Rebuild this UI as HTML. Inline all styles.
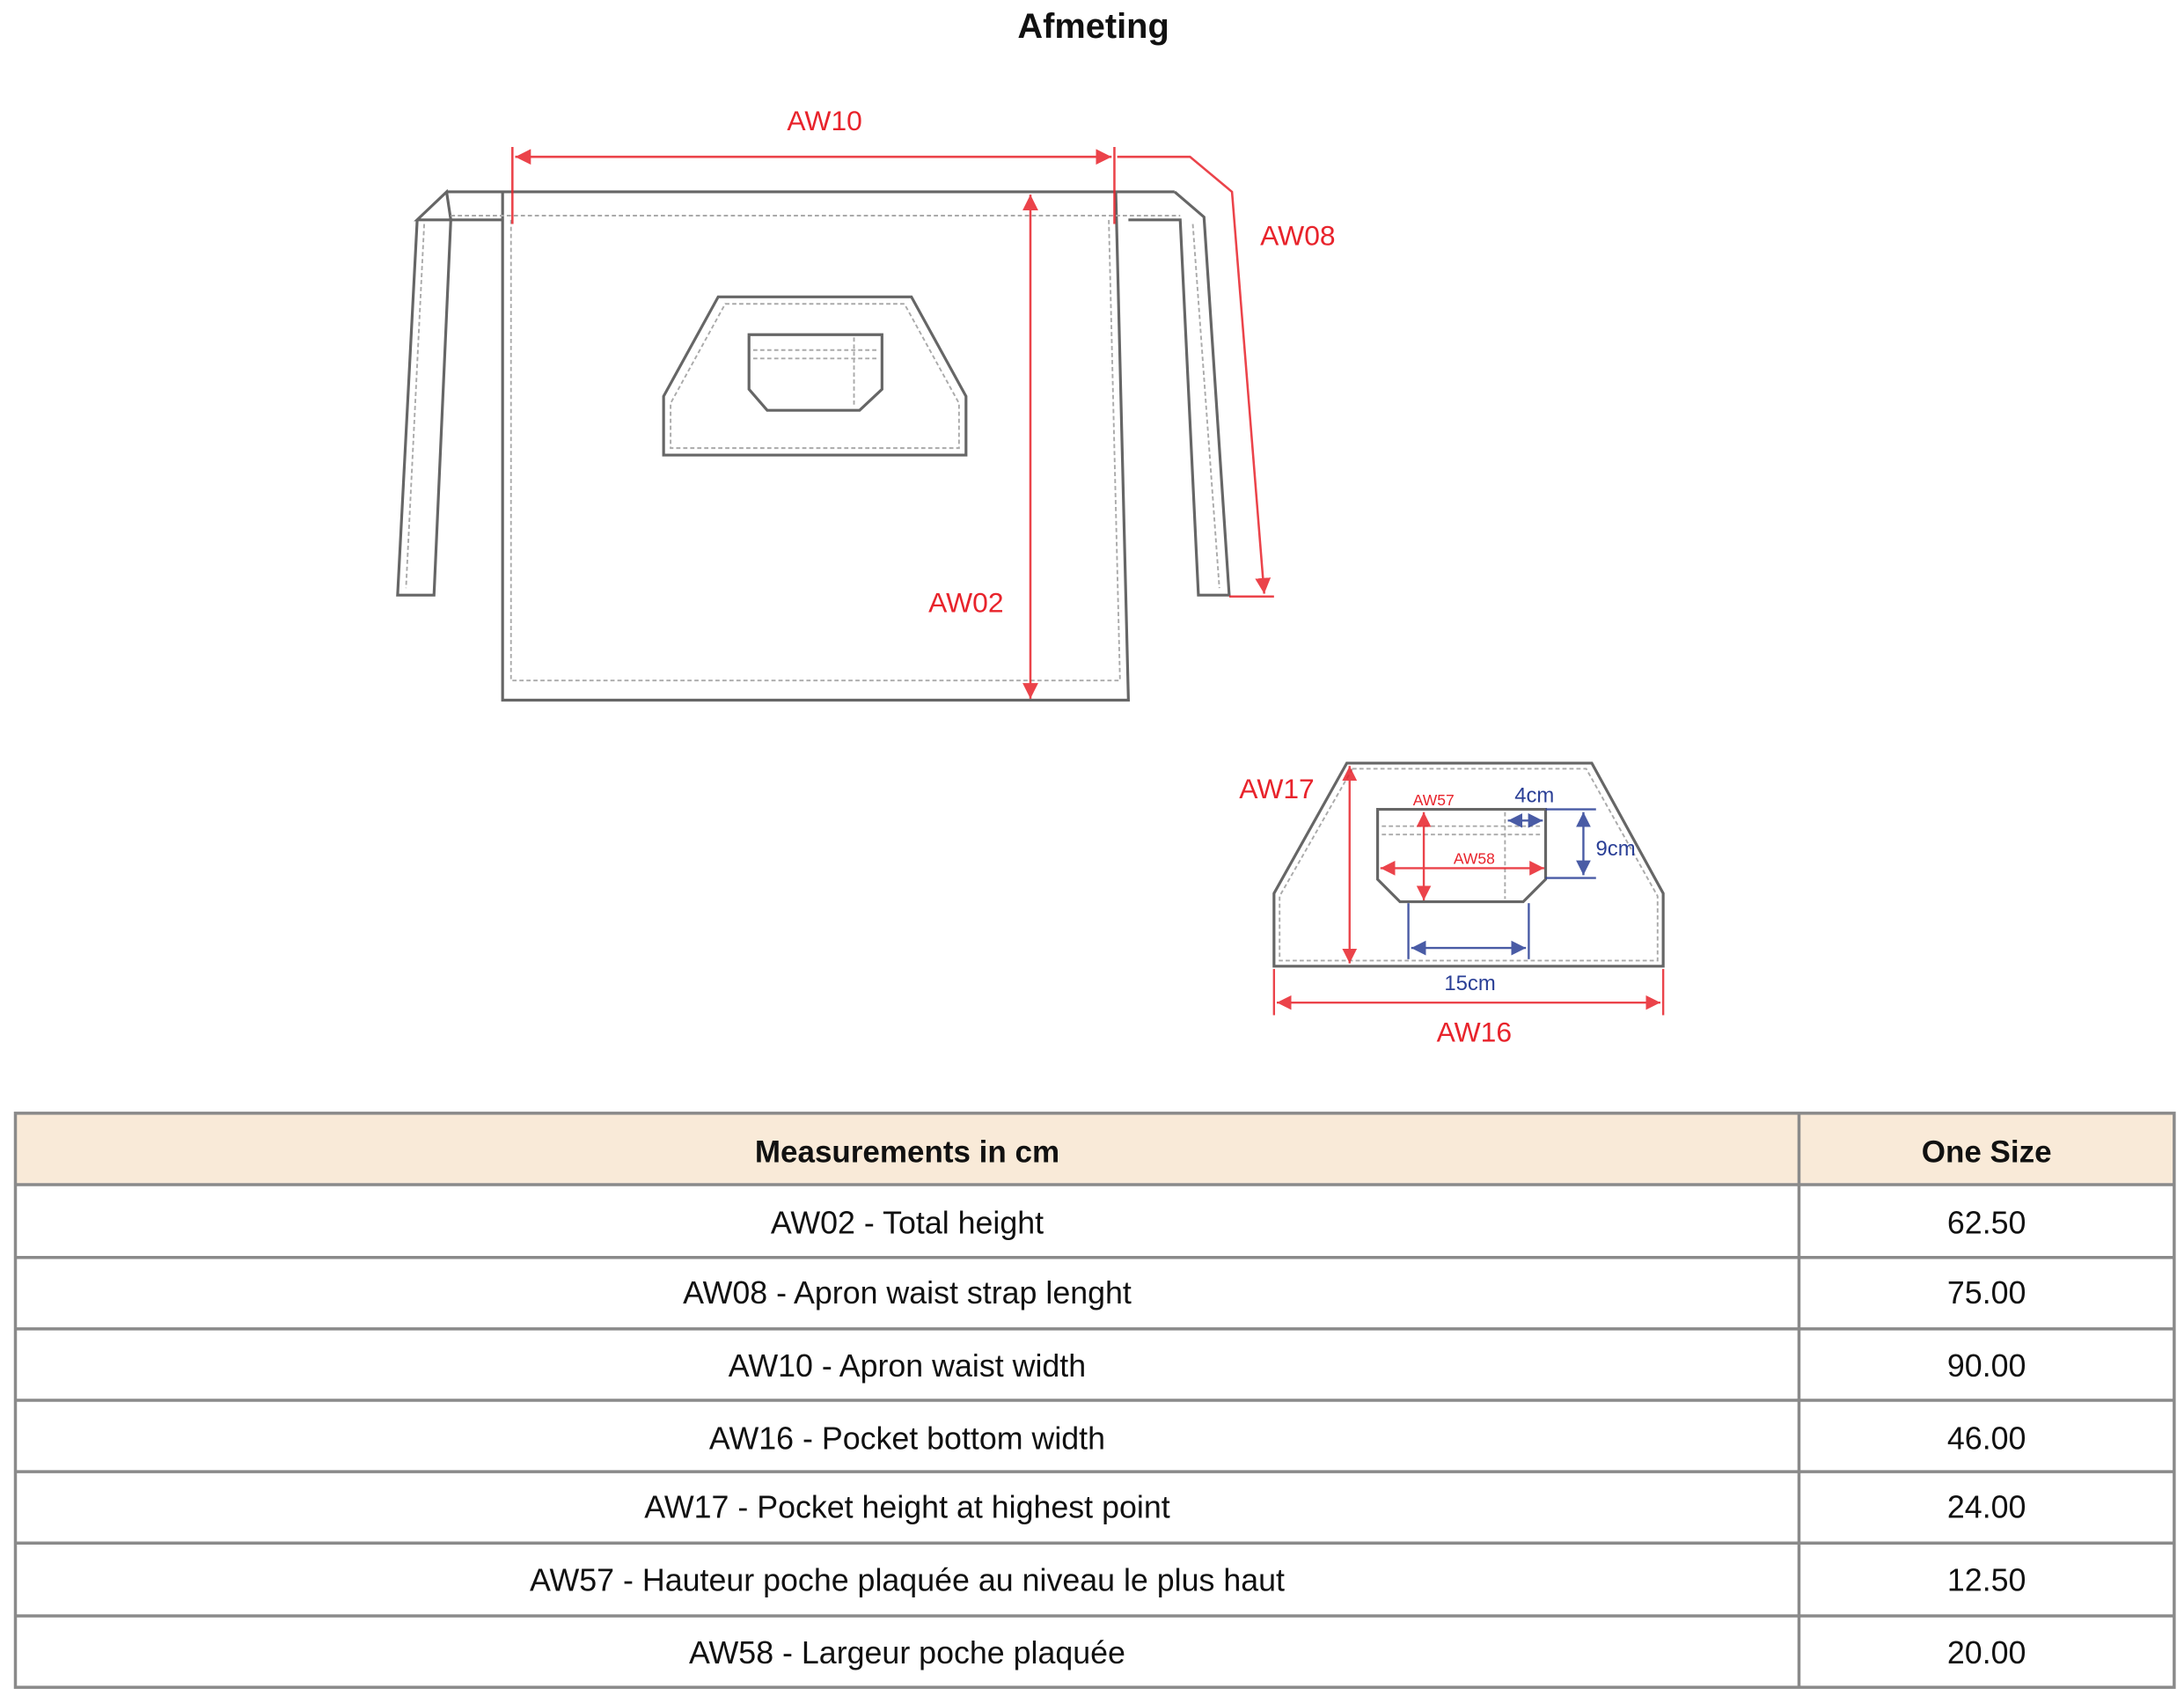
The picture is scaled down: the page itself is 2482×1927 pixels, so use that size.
<!DOCTYPE html>
<html><head><meta charset="utf-8"><style>
html,body{margin:0;padding:0;background:#fff;}
svg{display:block;}
text{font-family:"Liberation Sans",Arial,sans-serif;}
</style></head><body>
<svg width="2482" height="1927" viewBox="0 0 1560 1211.2" preserveAspectRatio="none" xmlns="http://www.w3.org/2000/svg">
<defs>
<marker id="ar" viewBox="0 0 10 10" refX="10" refY="5" markerWidth="7" markerHeight="7" orient="auto-start-reverse"><path d="M0,0 L10,5 L0,10 z" fill="#e8232b"/></marker>
<marker id="ab" viewBox="0 0 10 10" refX="10" refY="5" markerWidth="7" markerHeight="7" orient="auto-start-reverse"><path d="M0,0 L10,5 L0,10 z" fill="#2a3f96"/></marker>
</defs>
<text x="781" y="27" font-size="25" font-weight="bold" text-anchor="middle" fill="#111">Afmeting</text>

<g fill="none" stroke="#666" stroke-width="2">
<path d="M319,137 L839,137"/>
<path d="M298,157 L319,137 L322,157 Z"/>
<path d="M298,157 L284,425 L310,425 L322,157"/>
<path d="M322,157 L359,157"/>
<path d="M839,137 L860,155 L878,425 L856,425 L843,157 L806,157"/>
<path d="M359,137 L359,500 L806,500 L797,137"/>
<path d="M513,212 L651,212 L690,283 L690,325 L474,325 L474,283 Z"/>
<path d="M535,239 L630,239 L630,278 L614,293 L548,293 L535,278 Z"/>
</g>
<g fill="none" stroke="#aaa" stroke-width="1.2" stroke-dasharray="3,2">
<path d="M322,154 L843,154"/>
<path d="M365,157 L365,486 L800,486 L792,157"/>
<path d="M303,160 L290,420"/><path d="M852,160 L871,420"/>
<path d="M518,217 L646,217 L685,288 L685,320 L479,320 L479,288 Z"/>
<path d="M538,250 L628,250"/><path d="M538,256 L628,256"/><path d="M610,241 L610,290"/>
</g>
<g stroke="#e8232b" stroke-width="1.6" fill="none" opacity="0.85">
<line x1="366" y1="105" x2="366" y2="160"/>
<line x1="796" y1="105" x2="796" y2="160"/>
<line x1="368" y1="112" x2="794" y2="112" marker-start="url(#ar)" marker-end="url(#ar)"/>
<path d="M798,112 L850,112 L880,137 L903,424" marker-end="url(#ar)"/>
<line x1="878" y1="426" x2="910" y2="426"/>
<line x1="736" y1="139" x2="736" y2="499" marker-start="url(#ar)" marker-end="url(#ar)"/>
</g>
<g fill="#e8232b" font-size="20">
<text x="589" y="93" text-anchor="middle">AW10</text>
<text x="927" y="175" text-anchor="middle">AW08</text>
<text x="690" y="437" text-anchor="middle">AW02</text>
</g>

<g fill="none" stroke="#666" stroke-width="2">
<path d="M962,545 L1137,545 L1188,638 L1188,690 L910,690 L910,638 Z"/>
<path d="M984,578 L1104,578 L1104,628 L1088,644 L1000,644 L984,628 Z"/>
</g>
<g fill="none" stroke="#aaa" stroke-width="1.2" stroke-dasharray="3,2">
<path d="M966,549 L1133,549 L1184,640 L1184,686 L914,686 L914,640 Z"/>
<path d="M987,590 L1101,590"/><path d="M987,596 L1101,596"/><path d="M1075,580 L1075,642"/>
</g>
<g stroke="#e8232b" stroke-width="1.5" fill="none" opacity="0.85">
<line x1="964" y1="547" x2="964" y2="688" marker-start="url(#ar)" marker-end="url(#ar)"/>
<line x1="1017" y1="580" x2="1017" y2="643" marker-start="url(#ar)" marker-end="url(#ar)"/>
<line x1="986" y1="620" x2="1103" y2="620" marker-start="url(#ar)" marker-end="url(#ar)"/>
<line x1="910" y1="692" x2="910" y2="725"/><line x1="1188" y1="692" x2="1188" y2="725"/>
<line x1="912" y1="716" x2="1186" y2="716" marker-start="url(#ar)" marker-end="url(#ar)"/>
</g>
<g stroke="#2a3f96" stroke-width="1.5" fill="none" opacity="0.85">
<line x1="1077" y1="586" x2="1102" y2="586" marker-start="url(#ab)" marker-end="url(#ab)"/>
<line x1="1104" y1="578" x2="1140" y2="578"/><line x1="1104" y1="627" x2="1140" y2="627"/>
<line x1="1131" y1="580" x2="1131" y2="625" marker-start="url(#ab)" marker-end="url(#ab)"/>
<line x1="1006" y1="645" x2="1006" y2="685"/><line x1="1092" y1="645" x2="1092" y2="685"/>
<line x1="1008" y1="677" x2="1090" y2="677" marker-start="url(#ab)" marker-end="url(#ab)"/>
</g>
<g fill="#e8232b">
<text x="912" y="570" font-size="20" text-anchor="middle">AW17</text>
<text x="1024" y="575" font-size="11" text-anchor="middle">AW57</text>
<text x="1053" y="617" font-size="11" text-anchor="middle">AW58</text>
<text x="1053" y="744" font-size="20" text-anchor="middle">AW16</text>
</g>
<g fill="#2a3f96" font-size="15">
<text x="1096" y="573" text-anchor="middle">4cm</text>
<text x="1154" y="611" text-anchor="middle">9cm</text>
<text x="1050" y="707" text-anchor="middle">15cm</text>
</g>

<rect x="11" y="795" width="1542" height="50" fill="#f9ead8"/>
<g stroke="#8a8a8a" stroke-width="2.2" fill="none">
<rect x="11" y="795" width="1542" height="410"/>
<line x1="1285" y1="795" x2="1285" y2="1205"/>
<line x1="11" y1="846" x2="1553" y2="846"/>
<line x1="11" y1="898" x2="1553" y2="898"/>
<line x1="11" y1="949" x2="1553" y2="949"/>
<line x1="11" y1="1000" x2="1553" y2="1000"/>
<line x1="11" y1="1051" x2="1553" y2="1051"/>
<line x1="11" y1="1102" x2="1553" y2="1102"/>
<line x1="11" y1="1154" x2="1553" y2="1154"/>
</g>
<g font-size="22.5" fill="#111" text-anchor="middle">
<text x="648" y="830" font-weight="bold" font-size="22">Measurements in cm</text>
<text x="1419" y="830" font-weight="bold" font-size="22">One Size</text>
<text x="648" y="881">AW02 - Total height</text><text x="1419" y="881">62.50</text>
<text x="648" y="931">AW08 - Apron waist strap lenght</text><text x="1419" y="931">75.00</text>
<text x="648" y="983">AW10 - Apron waist width</text><text x="1419" y="983">90.00</text>
<text x="648" y="1035">AW16 - Pocket bottom width</text><text x="1419" y="1035">46.00</text>
<text x="648" y="1084">AW17 - Pocket height at highest point</text><text x="1419" y="1084">24.00</text>
<text x="648" y="1136">AW57 - Hauteur poche plaquée au niveau le plus haut</text><text x="1419" y="1136">12.50</text>
<text x="648" y="1188">AW58 - Largeur poche plaquée</text><text x="1419" y="1188">20.00</text>
</g>
</svg>
</body></html>
